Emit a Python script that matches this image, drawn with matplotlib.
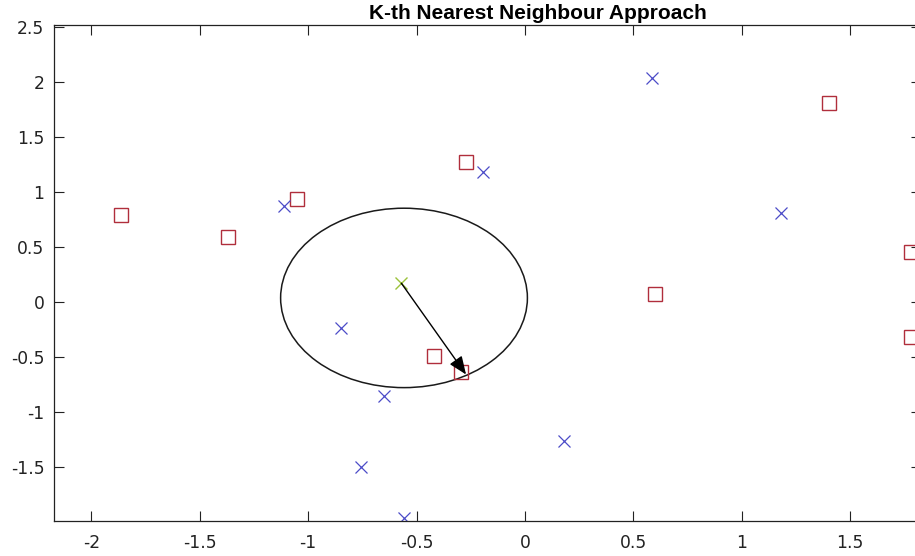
import matplotlib
matplotlib.use("Agg")
import matplotlib.pyplot as plt
from matplotlib.patches import Ellipse

# Class A (red squares)
sq_x = [-1.863, -1.370, -1.053, -0.274, 1.403, 0.601, 1.780, 1.780, -0.421, -0.295]
sq_y = [0.788, 0.588, 0.934, 1.270, 1.805, 0.070, 0.452, -0.320, -0.494, -0.637]
# Class B (blue crosses)
cx_x = [-1.112, -0.195, 0.587, 1.182, -0.849, -0.652, -0.757, -0.559, 0.178]
cx_y = [0.868, 1.177, 2.033, 0.805, -0.239, -0.857, -1.503, -1.970, -1.270]
# Query point and its k-th nearest neighbour
query = (-0.570, 0.167)
kth = (-0.272, -0.662)
# Neighbourhood ellipse (centre, width, height)
ell_center = (-0.558, 0.034)
ell_w, ell_h = 1.138, 1.631

xticks = [-2, -1.5, -1, -0.5, 0, 0.5, 1, 1.5]
yticks = [-1.5, -1, -0.5, 0, 0.5, 1, 1.5, 2, 2.5]
xlim = (-2.172, 1.826)
ylim = (-1.994, 2.515)

plt.rcParams['font.family'] = ['DejaVu Sans']

fig = plt.figure(figsize=(9.15, 5.56), dpi=100)
ax = fig.add_axes([54/915, 1-521/556, (921-54)/915, (521-25)/556])

ax.plot(sq_x, sq_y, linestyle='none', marker='s', markersize=10.5,
        markerfacecolor='none', markeredgecolor='#B02E3C', markeredgewidth=1.0)
ax.plot(cx_x, cx_y, linestyle='none', marker='x', markersize=8,
        color='#4B4BC8', markeredgewidth=0.9)
ax.plot([query[0]], [query[1]], linestyle='none', marker='x', markersize=8,
        color='#9BC23A', markeredgewidth=1.0)

ax.add_patch(Ellipse(ell_center, ell_w, ell_h, fill=False, edgecolor='#1a1a1a', linewidth=1.1))

ax.annotate('', xy=kth, xytext=query,
            arrowprops=dict(arrowstyle='-|>,head_length=1.1,head_width=0.45',
                            color='black', lw=1.0, shrinkA=0, shrinkB=0))

ax.set_xlim(*xlim)
ax.set_ylim(*ylim)
ax.set_xticks(xticks)
ax.set_yticks(yticks)
ax.set_xticklabels([f"{t:g}" for t in xticks])
ax.set_yticklabels([f"{t:g}" for t in yticks])
ax.tick_params(direction='in', length=7, width=0.8, top=True, right=True,
               labelsize=12.3, colors='#222222')
ax.tick_params(axis='x', pad=9)
ax.tick_params(axis='y', pad=7)
for s in ax.spines.values():
    s.set_linewidth(0.9)
    s.set_color('#222222')

ax.set_title('K-th Nearest Neighbour Approach', fontsize=15, fontweight='bold',
             family=['Liberation Sans', 'DejaVu Sans'], pad=4,
             x=(538-54)/(921-54))

fig.savefig('out.png', dpi=100)
